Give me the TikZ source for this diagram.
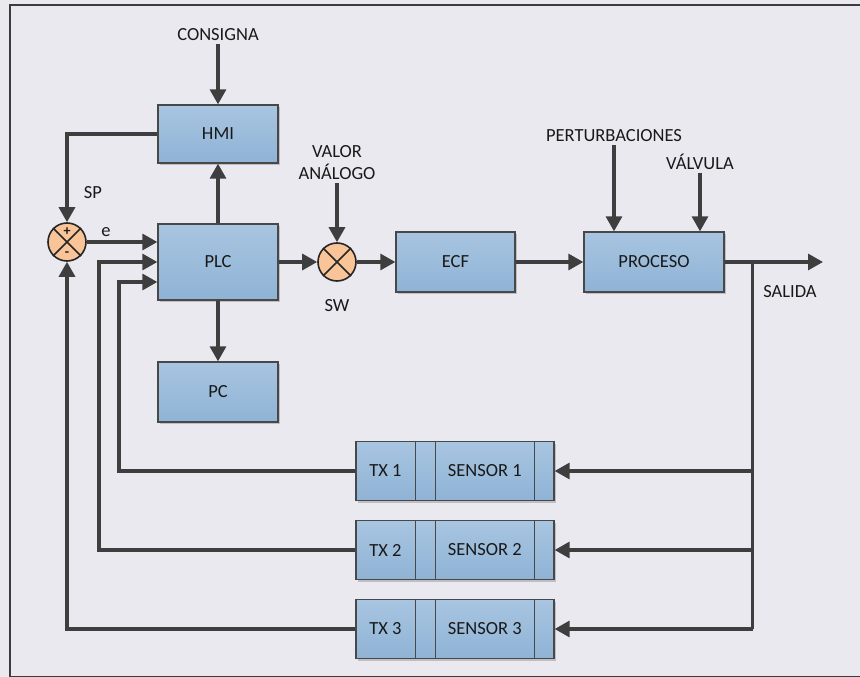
\documentclass[tikz,border=0pt]{standalone}
\usepackage{fontspec}
\setmainfont{Carlito}
\usetikzlibrary{arrows.meta,shadows,calc}
\definecolor{bg}{RGB}{235,233,240}
\definecolor{ln}{RGB}{62,62,62}
\definecolor{frm}{RGB}{60,60,60}
\definecolor{bxtop}{RGB}{168,197,225}
\definecolor{bxbot}{RGB}{143,179,213}
\definecolor{bxdraw}{RGB}{72,72,72}
\definecolor{orng}{RGB}{249,197,152}
\definecolor{txt}{RGB}{25,25,25}
\begin{document}
\begin{tikzpicture}[x=1pt,y=-1pt,
  lbl/.style={font=\fontsize{18.5}{22}\selectfont, text=txt, inner sep=3pt},
  blk/.style 2 args={rectangle, draw=bxdraw, line width=1.3pt, top color=bxtop, bottom color=bxbot,
    minimum width=#1, minimum height=#2, inner sep=0pt, font=\fontsize{18.5}{22}\selectfont, text=txt,
    drop shadow={shadow xshift=2pt, shadow yshift=-2pt, opacity=0.18, fill=black}},
  sumj/.style={circle, draw=black!85, line width=1.6pt, fill=orng, minimum size=38pt, inner sep=0pt},
  wire/.style={draw=ln, line width=3.2pt},
  arr/.style={wire, -{Triangle[length=15pt,width=16pt]}},
  divl/.style={draw=bxdraw, line width=1.3pt}
]
\clip (0,0) rectangle (860,677);
\fill[bg] (0,0) rectangle (860,677);
\draw[line width=2pt, frm] (10,5.5) rectangle (900,676.5);

% main blocks
\node[blk={120}{58}] (hmi) at (218,134) {HMI};
\node[blk={120}{76}] (plc) at (218,262) {PLC};
\node[blk={120}{60}] (pc) at (218,392) {PC};
\node[blk={119}{60}] (ecf) at (455.5,262) {ECF};
\node[blk={140}{60}] (proc) at (654,262) {PROCESO};

% junctions
\node[sumj] (sum) at (67,242) {};
\draw[line width=1.6pt, black!85] (sum.north east) -- (sum.south west) (sum.north west) -- (sum.south east);
\node[font=\fontsize{14}{14}\selectfont\bfseries, text=txt, inner sep=0pt] (plus) at ($(sum.center)+(0,-10)$) {+};
\node[font=\fontsize{14}{14}\selectfont\bfseries, text=txt, inner sep=0pt] (minus) at ($(sum.center)+(0,12)$) {-};
\node[sumj] (sw) at (337,262) {};
\draw[line width=1.6pt, black!85] (sw.north east) -- (sw.south west) (sw.north west) -- (sw.south east);

% sensor blocks
\foreach \i/\y in {1/471,2/550,3/629}{
  \node[blk={198}{59}] (s\i) at (455,\y) {};
  \draw[divl] ($(s\i.north west)+(60,0)$) -- ($(s\i.south west)+(60,0)$);
  \draw[divl] ($(s\i.north west)+(80,0)$) -- ($(s\i.south west)+(80,0)$);
  \draw[divl] ($(s\i.north west)+(179,0)$) -- ($(s\i.south west)+(179,0)$);
  \node[lbl] (tx\i) at ($(s\i.west)+(30,0)$) {TX \i};
  \node[lbl] (sen\i) at ($(s\i.west)+(129.5,0)$) {SENSOR \i};
}

% labels
\node[lbl] (cons) at (218,35) {CONSIGNA};
\node[lbl] (spl) at (93,193) {SP};
\node[lbl] (el) at (106,232) {e};
\node[lbl, align=center] (va) at (337,163) {VALOR\\ANÁLOGO};
\node[lbl] (swl) at (337,306) {SW};
\node[lbl] (pert) at (614,136) {PERTURBACIONES};
\node[lbl] (valv) at (700,162) {VÁLVULA};
\node[lbl] (sal) at (790,292) {SALIDA};

% coordinates
\coordinate (k1) at (119,0);
\coordinate (k2) at (99,0);
\coordinate (in3) at ($(plc.west)+(0,20)$);
\coordinate (out) at (823,262);
\coordinate (br) at (752.5,262);

% connectors
\draw[arr] (cons.south) -- (hmi.north);
\draw[arr] (hmi.west) -| (sum.north);
\draw[arr] (sum.east) -- (sum.east -| plc.west);
\draw[arr] (plc.north) -- (hmi.south);
\draw[arr] (plc.south) -- (pc.north);
\draw[arr] (plc.east) -- (sw.west);
\draw[arr] (va.south) -- (sw.north);
\draw[arr] (sw.east) -- (ecf.west);
\draw[arr] (ecf.east) -- (proc.west);
\draw[arr] (pert.south) -- (pert.south |- proc.north);
\draw[arr] (valv.south) -- (valv.south |- proc.north);
\draw[arr] (proc.east) -- (out);
\draw[wire] (br) -- (br |- s3.east);
\draw[arr] (br |- s1.east) -- (s1.east);
\draw[arr] (br |- s2.east) -- (s2.east);
\draw[arr] (br |- s3.east) -- (s3.east);
\draw[arr] (s1.west) -- (s1.west -| k1) |- (in3);
\draw[arr] (s2.west) -- (s2.west -| k2) |- (plc.west);
\draw[arr] (s3.west) -| (sum.south);
\end{tikzpicture}
\end{document}
